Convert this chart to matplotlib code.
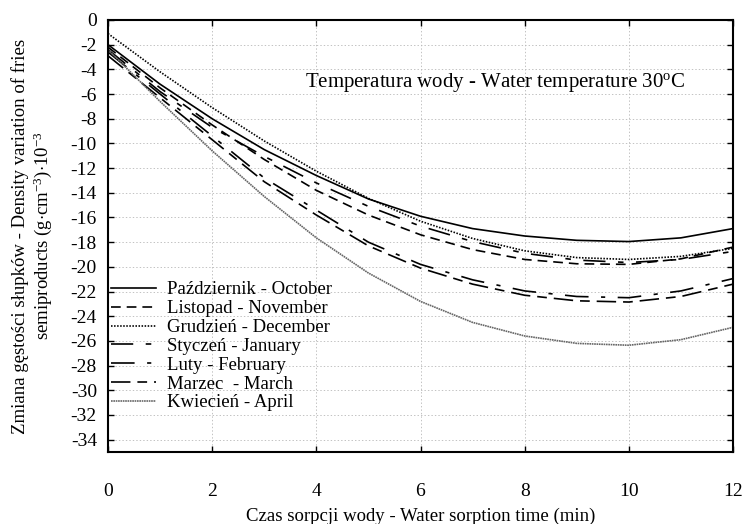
import numpy as np
import matplotlib
matplotlib.use("Agg")
import matplotlib.pyplot as plt

plt.rcParams['font.family'] = ['Liberation Serif', 'DejaVu Serif']
plt.rcParams['mathtext.fontset'] = 'custom'
plt.rcParams['mathtext.rm'] = 'Liberation Serif'
plt.rcParams['mathtext.it'] = 'Liberation Serif:italic'
plt.rcParams['lines.scale_dashes'] = False
plt.rcParams['axes.unicode_minus'] = False

# czas sorpcji (min)
czas = [0, 1, 2, 3, 4, 5, 6, 7, 8, 9, 10, 11, 12]

# zmiana gestosci (g/cm3)*10^-3 dla kolejnych miesiecy
pazdziernik = [-2.0, -5.2, -8.0, -10.5, -12.6, -14.5, -15.9, -16.9, -17.5, -17.85, -17.95, -17.65, -16.9]
listopad = [-2.2, -5.5, -8.5, -11.3, -13.8, -15.8, -17.4, -18.6, -19.4, -19.75, -19.8, -19.35, -18.4]
grudzien = [-1.1, -4.2, -7.1, -9.8, -12.25, -14.45, -16.3, -17.7, -18.7, -19.25, -19.4, -19.15, -18.5]
styczen = [-2.4, -5.8, -8.7, -11.05, -13.2, -15.1, -16.7, -17.95, -18.9, -19.45, -19.65, -19.4, -18.75]
luty = [-2.6, -6.0, -9.4, -12.8, -15.4, -18.0, -19.8, -21.05, -21.95, -22.4, -22.5, -21.95, -20.95]
marzec = [-2.9, -6.3, -9.7, -13.1, -15.8, -18.3, -20.1, -21.4, -22.3, -22.75, -22.85, -22.4, -21.4]
kwiecien = [-2.4, -6.6, -10.6, -14.3, -17.65, -20.5, -22.8, -24.5, -25.6, -26.2, -26.35, -25.9, -24.9]

etykiety = ['Październik - October', 'Listopad - November', 'Grudzień - December',
            'Styczeń - January', 'Luty - February', 'Marzec  - March', 'Kwiecień - April']

serie = [pazdziernik, listopad, grudzien, styczen, luty, marzec, kwiecien]
style = [
    ('black', '-'),
    ('black', (0, (7, 4.3))),
    ('black', (0, (1.1, 1.1))),
    ('black', (0, (16, 9, 4, 9))),
    ('black', (0, (17, 9, 3, 9))),
    ('black', (0, (14, 5, 7, 5))),
    ('#666666', (0, (1.2, 0.5))),
]

fig = plt.figure(figsize=(7.42, 5.24), dpi=100)
ax = fig.add_axes([108 / 742, 1 - 452 / 524, 625 / 742, 432 / 524])

for y, lab, (kol, ls) in zip(serie, etykiety, style):
    ax.plot(czas, y, color=kol, linestyle=ls, linewidth=1.2, label=lab)

ax.set_xlim(0, 12)
ax.set_ylim(-35, 0)
ax.set_xticks(np.arange(0, 13, 2))
ax.set_yticks(np.arange(-34, 1, 2))
ax.grid(True, color='#b8b8b8', linestyle=(0, (1, 1.5)), linewidth=0.6)
ax.tick_params(direction='in', top=True, right=True, length=4, width=1,
               labelsize=14)
ax.tick_params(axis='x', pad=22)
ax.tick_params(axis='y', pad=8)
for s in ax.spines.values():
    s.set_linewidth(1.5)

ax.set_xlabel('Czas sorpcji wody - Water sorption time (min)', fontsize=13.5, labelpad=6)
ax.set_ylabel('Zmiana gęstości słupków - Density variation of fries\n'
              'semiproducts (g$\\cdot$cm$^{-3}$)$\\cdot$10$^{-3}$',
              fontsize=13.5, labelpad=12, linespacing=1.15)

ax.text(0.62, 0.855, 'Temperatura wody - Water temperature 30$^{\\rm o}$C',
        transform=ax.transAxes, ha='center', va='center', fontsize=15)

ax.legend(loc='upper left', bbox_to_anchor=(0.005, 0.395), frameon=False,
          fontsize=13.5, handlelength=2.4, handletextpad=0.6,
          labelspacing=0.09, borderaxespad=0, borderpad=0)

fig.savefig('out.png', dpi=100)
